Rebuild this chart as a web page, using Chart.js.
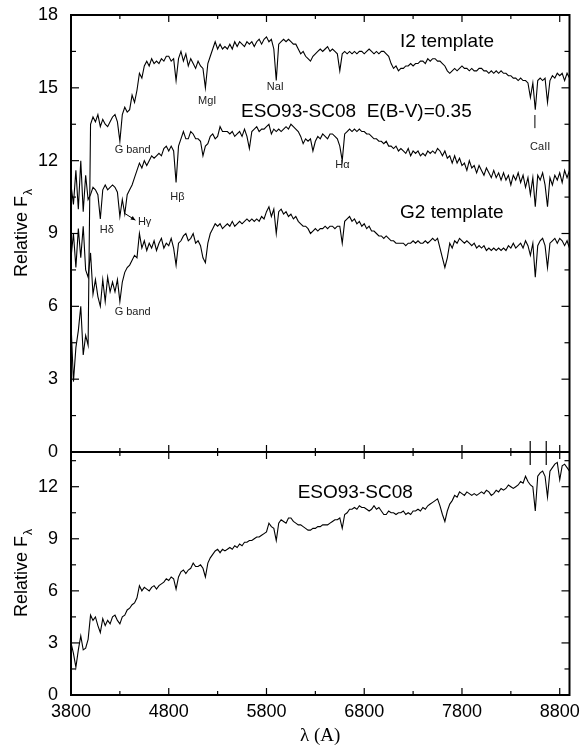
<!DOCTYPE html>
<html>
<head>
<meta charset="utf-8">
<script src="https://cdn.jsdelivr.net/npm/chart.js@4.4.1/dist/chart.umd.min.js"></script>
<style>
  html, body { margin: 0; padding: 0; background: #fff; }
</style>
</head>
<body>
<canvas id="chart" width="586" height="747"></canvas>
<script>
// DATA
// wavelength grid, 3800..8900 A every 25 A
const WAVE_START = 3800;
const WAVE_STEP = 25;
const WAVE_COUNT = 205;
const WAVE = [];
for (let i = 0; i < WAVE_COUNT; i++) WAVE.push(WAVE_START + i * WAVE_STEP);

// top panel
const I2_FLUX = [
  5.3, 2.9, 4.3, 5.0, 6.0, 4.0, 4.8, 4.4,
  13.5, 13.8, 13.6, 13.9, 13.4, 13.7, 13.5, 13.4,
  13.6, 13.8, 13.9, 13.6, 12.8, 13.9, 14.2, 14.0,
  14.1, 14.7, 14.4, 14.9, 15.6, 15.4, 15.9, 16.1,
  15.9, 16.2, 16.0, 16.1, 16.0, 16.2, 16.1, 16.3,
  16.3, 16.1, 16.2, 15.3, 16.2, 16.5, 16.1, 16.4,
  15.9, 16.2, 16.0, 15.8, 16.1, 15.9, 15.8, 15.0,
  16.0, 16.3, 16.6, 16.9, 16.6, 16.8, 16.6, 16.7,
  16.6, 16.8, 16.6, 16.9, 16.7, 16.9, 16.8, 16.7,
  16.9, 16.8, 16.9, 16.7, 16.9, 17.0, 16.8, 17.0,
  17.1, 16.9, 17.0, 16.6, 15.3, 16.8, 16.9, 17.0,
  16.9, 17.0, 16.9, 16.8, 16.8, 16.6, 16.4, 16.5,
  16.3, 16.2, 16.1, 16.3, 16.4, 16.5, 16.6, 16.5,
  16.6, 16.7, 16.5, 16.6, 16.5, 16.4, 15.7, 16.4,
  16.5, 16.4, 16.5, 16.4, 16.5, 16.4, 16.5, 16.5,
  16.4, 16.5, 16.6, 16.5, 16.4, 16.5, 16.4, 16.5,
  16.5, 16.4, 16.3, 16.0, 15.8, 15.9, 15.7, 15.8,
  15.8, 15.9, 15.9, 16.0, 15.9, 16.0, 16.0, 16.1,
  16.1, 16.0, 16.2, 16.1, 16.2, 16.2, 16.1, 16.1,
  16.0, 15.9, 15.7, 15.6, 15.7, 15.8, 15.7, 15.8,
  15.9, 15.8, 15.8, 15.7, 15.8, 15.7, 15.7, 15.8,
  15.8, 15.7, 15.7, 15.6, 15.7, 15.6, 15.7, 15.6,
  15.7, 15.6, 15.6, 15.5, 15.5, 15.4, 15.4, 15.3,
  15.4, 15.3, 15.3, 15.2, 14.6, 15.2, 14.1, 15.3,
  15.4, 15.3, 15.4, 14.4, 15.3, 15.5, 15.4, 15.6,
  15.5, 15.6, 15.3, 15.6, 15.4
];

const ESO_RED_FLUX = [
  11.0, 10.2, 11.6, 10.0, 12.0, 9.9, 11.4, 10.4,
  10.6, 10.9, 10.8, 10.6, 9.6, 10.8, 11.0, 10.8,
  10.9, 11.0, 10.9, 10.7, 9.7, 10.4, 9.8, 10.6,
  10.8, 11.0, 11.3, 11.6, 11.9, 11.7, 12.0, 11.8,
  12.0, 12.2, 12.1, 12.2, 12.3, 12.2, 12.5, 12.6,
  12.4, 12.6, 12.4, 11.1, 12.6, 12.9, 13.2, 12.9,
  12.9, 13.2, 13.1, 12.9, 12.9, 12.8, 12.2, 12.6,
  12.7, 13.0, 13.1, 12.9, 13.0, 13.4, 13.2, 13.2,
  13.2, 13.1, 13.2, 13.0, 13.1, 13.2, 13.0, 13.3,
  13.0, 12.5, 13.2, 13.3, 13.4, 13.2, 13.3, 13.3,
  13.4, 13.5, 13.1, 13.3, 13.2, 13.3, 13.2, 13.3,
  13.4, 13.3, 13.5, 13.4, 13.3, 13.2, 13.0, 12.7,
  12.9, 12.8, 12.9, 12.4, 12.8, 13.0, 12.9, 13.1,
  13.0, 12.9, 13.1, 13.1, 13.0, 12.9, 12.6, 12.0,
  13.1, 13.2, 13.3, 13.2, 13.3, 13.2, 13.3, 13.2,
  13.2, 13.1, 13.1, 13.0, 12.9, 12.9, 12.8, 12.8,
  12.7, 12.8, 12.6, 12.6, 12.5, 12.6, 12.4, 12.5,
  12.4, 12.3, 12.5, 12.2, 12.4, 12.3, 12.4, 12.2,
  12.3, 12.2, 12.4, 12.3, 12.4, 12.3, 12.5, 12.4,
  12.2, 12.4, 12.1, 12.2, 11.9, 12.2, 11.9, 12.1,
  11.8, 11.9, 11.6, 12.0, 11.7, 11.8, 11.5, 11.8,
  11.6, 11.4, 11.7, 11.5, 11.3, 11.6, 11.3, 11.5,
  11.2, 11.5, 11.2, 11.4, 11.0, 11.4, 11.2, 11.5,
  11.1, 11.4, 10.9, 11.3, 10.6, 11.3, 10.1, 11.4,
  11.2, 11.5, 11.0, 10.1, 11.3, 11.0, 11.4, 11.2,
  11.5, 11.1, 11.6, 11.3, 11.6
];

const G2_FLUX = [
  8.0, 9.0, 7.6, 9.2, 8.0, 9.3, 7.5, 7.2,
  8.2, 6.5, 7.1, 6.4, 6.0, 7.1, 6.2, 7.2,
  6.6, 7.0, 6.6, 7.1, 6.2, 7.0, 7.4, 7.6,
  7.7, 7.9, 8.1, 8.0, 9.0, 8.4, 8.7, 8.3,
  8.6, 8.4, 8.7, 8.3, 8.6, 8.8, 8.4, 8.6,
  8.5, 8.8, 8.4, 7.7, 8.6, 8.7, 8.9, 9.0,
  8.7, 8.8, 9.0, 8.6, 8.7, 8.5, 8.0, 7.8,
  8.6, 9.0, 9.2, 9.4, 9.3, 9.4, 9.2, 9.3,
  9.4, 9.3, 9.5, 9.3, 9.4, 9.5, 9.4, 9.5,
  9.6, 9.5, 9.6, 9.5, 9.6, 9.5, 9.7, 9.6,
  9.9, 10.1, 9.7, 10.0, 9.0, 9.9, 10.0, 9.8,
  9.9, 9.7, 9.8, 9.6, 9.7, 9.5, 9.4, 9.3,
  9.3, 9.2, 9.0, 9.1, 9.2, 9.1, 9.2, 9.2,
  9.3, 9.2, 9.3, 9.3, 9.2, 9.3, 9.3, 8.6,
  9.5, 9.6, 9.7, 9.5, 9.6, 9.4, 9.5, 9.3,
  9.4, 9.2, 9.3, 9.1, 9.1, 9.0, 8.9, 8.9,
  8.8, 8.9, 8.8, 8.7, 8.7, 8.6, 8.6, 8.6,
  8.6, 8.5, 8.6, 8.6, 8.7, 8.6, 8.7, 8.6,
  8.6, 8.7, 8.6, 8.7, 8.8, 8.7, 8.8, 8.4,
  8.0, 7.6, 8.0, 8.6, 8.4, 8.7, 8.6, 8.8,
  8.7, 8.6, 8.7, 8.6, 8.5, 8.6, 8.4, 8.5,
  8.4, 8.5, 8.3, 8.4, 8.3, 8.4, 8.3, 8.4,
  8.3, 8.4, 8.3, 8.5, 8.4, 8.6, 8.4, 8.5,
  8.6, 8.4, 8.7, 8.5, 8.1, 8.6, 7.2, 8.5,
  8.7, 8.8, 8.5, 7.6, 8.6, 8.7, 8.8, 8.6,
  8.8, 8.7, 8.5, 8.7, 8.4
];

// bottom panel
const ESO_OBS_FLUX = [
  3.0, 2.4, 1.6, 2.6, 3.4, 2.6, 2.7, 3.2,
  4.6, 4.3, 4.5, 4.0, 3.6, 4.4, 4.0, 4.3,
  4.1, 4.5, 4.6, 4.3, 4.1, 4.5, 4.6, 4.9,
  5.0, 5.2, 5.3, 5.6, 6.3, 6.0, 6.2, 6.1,
  6.0, 6.2, 6.3, 6.1, 6.3, 6.4, 6.5, 6.7,
  6.6, 6.8, 6.7, 6.1, 6.8, 7.1, 7.2, 7.0,
  7.2, 7.3, 7.6, 7.4, 7.4, 7.5, 7.3, 6.8,
  7.6, 7.9, 8.1, 8.3, 8.4, 8.2, 8.4, 8.3,
  8.4, 8.5, 8.4, 8.6, 8.5, 8.7, 8.6, 8.8,
  8.8, 8.9, 8.9, 9.0, 9.1, 9.1, 9.2, 9.3,
  9.4, 9.9, 9.7, 9.6, 8.9, 9.9, 10.1, 10.0,
  9.9, 10.2, 10.2, 10.0, 9.9, 9.8, 9.8, 9.7,
  9.6, 9.5, 9.5, 9.6, 9.6, 9.7, 9.7, 9.8,
  9.8, 9.8, 9.9, 10.0, 10.1, 10.1, 10.2, 9.6,
  10.4, 10.5, 10.7, 10.7, 10.8, 10.7, 10.9, 10.8,
  10.8, 10.7, 10.6, 10.7, 10.9, 10.7, 10.8, 10.6,
  10.4, 10.4, 10.6, 10.5, 10.5, 10.4, 10.5, 10.5,
  10.6, 10.4, 10.5, 10.4, 10.6, 10.6, 10.7, 10.6,
  10.8, 10.7, 10.9, 11.0, 11.1, 11.2, 11.3, 10.9,
  10.4, 10.0, 10.6, 11.0, 11.2, 11.5, 11.4, 11.7,
  11.6, 11.5, 11.7, 11.6, 11.5, 11.6, 11.5, 11.6,
  11.7, 11.6, 11.8, 11.7, 11.5, 11.6, 11.8, 11.7,
  11.9, 11.8, 11.9, 12.1, 12.0, 11.9, 12.0, 12.1,
  12.3, 12.2, 12.6, 12.3, 12.1, 12.0, 10.6, 12.6,
  12.8, 12.9, 12.6, 11.4, 12.9, 13.1, 13.3, 13.4,
  12.4, 13.2, 13.3, 13.1, 12.9
];

// axes
const X_TICKS = [3800, 4800, 5800, 6800, 7800, 8800];
const X_MINOR = [4300, 5300, 6300, 7300, 8300];
const TOP_TICKS = [0, 3, 6, 9, 12, 15, 18];
const TOP_MINOR = [1.5, 4.5, 7.5, 10.5, 13.5, 16.5];
const BOT_TICKS = [0, 3, 6, 9, 12];
const BOT_MINOR = [1.5, 4.5, 7.5, 10.5, 13.5];
const CAII_LINES = [8498, 8662];

// text on the plot
const NOTES = [
  { text: "I2 template", x: 7166, y: 16.89, axis: "yTop", size: 19, align: "left" },
  { text: "ESO93-SC08  E(B-V)=0.35", x: 5539, y: 14.0, axis: "yTop", size: 19, align: "left" },
  { text: "G2 template", x: 7166, y: 9.84, axis: "yTop", size: 19, align: "left" },
  { text: "MgI", x: 5193, y: 14.46, axis: "yTop", size: 11, align: "center" },
  { text: "NaI", x: 5890, y: 15.03, axis: "yTop", size: 11, align: "center" },
  { text: "G band", x: 4431, y: 12.44, axis: "yTop", size: 11, align: "center" },
  { text: "Hβ", x: 4888, y: 10.5, axis: "yTop", size: 11, align: "center" },
  { text: "Hδ", x: 4166, y: 9.14, axis: "yTop", size: 11, align: "center" },
  { text: "Hγ", x: 4553, y: 9.47, axis: "yTop", size: 11, align: "center" },
  { text: "Hα", x: 6576, y: 11.82, axis: "yTop", size: 11, align: "center" },
  { text: "CaII", x: 8600, y: 12.56, axis: "yTop", size: 11, align: "center" },
  { text: "G band", x: 4431, y: 5.77, axis: "yTop", size: 11, align: "center" },
  { text: "ESO93-SC08", x: 6119, y: 11.64, axis: "yBot", size: 19, align: "left" }
];

const SANS = "'Liberation Sans', Arial, sans-serif";

// PLUGIN: frame, inward ticks, labels
const decor = {
  id: "decor",
  afterDraw(chart) {
    const { ctx, chartArea: a, scales } = chart;
    const x = scales.x, yTop = scales.yTop, yBot = scales.yBot;
    const mid = yTop.bottom;
    const line = (x0, y0, x1, y1) => {
      ctx.beginPath(); ctx.moveTo(x0, y0); ctx.lineTo(x1, y1); ctx.stroke();
    };
    ctx.save();
    ctx.strokeStyle = "#000";
    ctx.fillStyle = "#000";

    // ticks
    ctx.lineWidth = 1.2;
    X_TICKS.concat(X_MINOR).forEach(v => {
      const len = X_TICKS.includes(v) ? 7 : 4;
      const px = x.getPixelForValue(v);
      line(px, a.top, px, a.top + len);
      line(px, mid - len, px, mid + len);
      line(px, a.bottom - len, px, a.bottom);
    });
    [[yTop, TOP_TICKS, TOP_MINOR], [yBot, BOT_TICKS, BOT_MINOR]].forEach(([s, major, minor]) => {
      major.concat(minor).forEach(v => {
        const len = major.includes(v) ? 8 : 5;
        const py = s.getPixelForValue(v);
        line(a.left, py, a.left + len, py);
        line(a.right - len, py, a.right, py);
      });
    });
    CAII_LINES.forEach(v => {
      const px = x.getPixelForValue(v);
      line(px, mid - 11, px, mid + 13);
    });

    // frame
    ctx.lineWidth = 2;
    ctx.strokeRect(a.left, a.top, a.right - a.left, a.bottom - a.top);
    line(a.left, mid, a.right, mid);

    // CaII marker and H-gamma arrow
    ctx.lineWidth = 1;
    const cx = x.getPixelForValue(8546);
    line(cx, yTop.getPixelForValue(13.88), cx, yTop.getPixelForValue(13.34));
    const ax0 = x.getPixelForValue(4344), ay0 = yTop.getPixelForValue(9.84);
    const ax1 = x.getPixelForValue(4459), ay1 = yTop.getPixelForValue(9.55);
    line(ax0, ay0, ax1, ay1);
    const ang = Math.atan2(ay1 - ay0, ax1 - ax0);
    ctx.beginPath();
    ctx.moveTo(ax1, ay1);
    ctx.lineTo(ax1 - 5 * Math.cos(ang - 0.45), ay1 - 5 * Math.sin(ang - 0.45));
    ctx.lineTo(ax1 - 5 * Math.cos(ang + 0.45), ay1 - 5 * Math.sin(ang + 0.45));
    ctx.closePath();
    ctx.fill();

    // notes
    ctx.textBaseline = "middle";
    NOTES.forEach(n => {
      ctx.font = n.size + "px " + SANS;
      ctx.fillStyle = n.size > 12 ? "#000" : "#222";
      ctx.textAlign = n.align;
      ctx.fillText(n.text, x.getPixelForValue(n.x), scales[n.axis].getPixelForValue(n.y));
    });

    // y titles with subscript lambda
    ctx.fillStyle = "#000";
    ctx.textAlign = "left";
    ctx.textBaseline = "alphabetic";
    [yTop, yBot].forEach(s => {
      const cy = (s.top + s.bottom) / 2;
      ctx.save();
      ctx.translate(27, cy);
      ctx.rotate(-Math.PI / 2);
      ctx.font = "18px " + SANS;
      const w1 = ctx.measureText("Relative F").width;
      ctx.font = "12px " + SANS;
      const w2 = ctx.measureText("λ").width;
      const start = -(w1 + w2) / 2;
      ctx.font = "18px " + SANS;
      ctx.fillText("Relative F", start, 0);
      ctx.font = "12px " + SANS;
      ctx.fillText("λ", start + w1 + 1, 5);
      ctx.restore();
    });

    // x title
    ctx.font = "19px 'Liberation Serif', 'Times New Roman', serif";
    ctx.textAlign = "center";
    ctx.textBaseline = "middle";
    ctx.fillText("λ (A)", (a.left + a.right) / 2, 736);
    ctx.restore();
  }
};

// CHART
const tickFont = { family: SANS, size: 18 };
const asText = v => String(v);

function yScale(min, max, ticks, weight, layoutWeight) {
  return {
    type: "linear",
    position: "left",
    stack: "panels",
    stackWeight: weight,
    weight: layoutWeight,
    min: min,
    max: max,
    grid: { display: false, drawTicks: false },
    border: { display: false },
    afterBuildTicks: s => { s.ticks = ticks.map(v => ({ value: v })); },
    afterFit: s => { s.width = 71; s.paddingTop = 0; s.paddingBottom = 0; },
    ticks: { font: tickFont, color: "#000", padding: 13, callback: asText }
  };
}

const spectrum = (flux, axis) => ({
  data: flux.map((v, i) => ({ x: WAVE[i], y: v })),
  yAxisID: axis,
  borderColor: "#000",
  borderWidth: 1.1,
  pointRadius: 0,
  tension: 0
});

new Chart(document.getElementById("chart"), {
  type: "line",
  data: {
    datasets: [
      spectrum(I2_FLUX, "yTop"),
      spectrum(ESO_RED_FLUX, "yTop"),
      spectrum(G2_FLUX, "yTop"),
      spectrum(ESO_OBS_FLUX, "yBot")
    ]
  },
  options: {
    responsive: false,
    animation: false,
    layout: { padding: { top: 15, right: 13, bottom: 0, left: 0 } },
    plugins: { legend: { display: false }, tooltip: { enabled: false } },
    scales: {
      x: {
        type: "linear",
        min: 3800,
        max: 8900,
        grid: { display: false, drawTicks: false },
        border: { display: false },
        afterBuildTicks: s => { s.ticks = X_TICKS.map(v => ({ value: v })); },
        afterFit: s => { s.height = 52; },
        ticks: { font: tickFont, color: "#000", padding: 6, maxRotation: 0, autoSkip: false, callback: asText }
      },
      yBot: yScale(0, 14, BOT_TICKS, 243, 0),
      yTop: yScale(0, 18, TOP_TICKS, 437, 1)
    }
  },
  plugins: [decor]
});
</script>
</body>
</html>
